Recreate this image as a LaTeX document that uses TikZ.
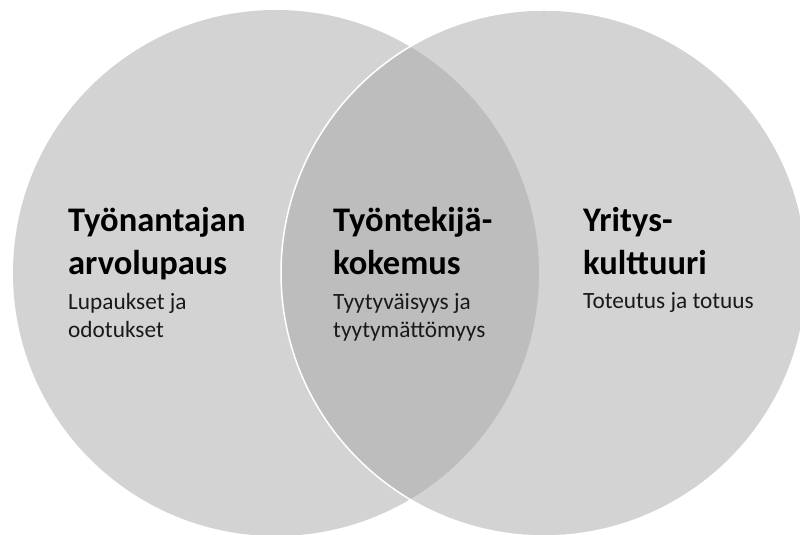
\documentclass[tikz,border=0pt]{standalone}
\usepackage{fontspec}
\setmainfont{Carlito}
\usetikzlibrary{positioning}
\definecolor{venngray}{RGB}{211,211,211}
\definecolor{lensgray}{RGB}{189,189,189}
\definecolor{subtext}{RGB}{25,25,25}

\begin{document}
\begin{tikzpicture}[x=1pt, y=1pt,
        head/.style={anchor=base west, inner sep=0pt, align=left,
                     font=\bfseries\fontsize{34.5}{43}\selectfont},
        sub/.style={anchor=base west, inner sep=0pt, align=left, text=subtext,
                    font=\fontsize{23.3}{28}\selectfont}]
    \useasboundingbox (0,0) rectangle (800,535);
    \clip (0,0) rectangle (800,535);

    % the two circles and their overlap
    \coordinate (lc) at (276,262);
    \coordinate (rc) at (544,262);
    \fill[venngray] (lc) circle (263);
    \fill[venngray] (rc) circle (263);
    \begin{scope}
        \clip (lc) circle (263);
        \fill[lensgray] (rc) circle (263);
    \end{scope}
    \draw[white, line width=1.5pt] (rc) circle (263);

    % texts (base = last line)
    \node[head] (lefthead) at (68,260) {Työnantajan\\arvolupaus};
    \node[sub] (leftsub) at (68,197) {Lupaukset ja\\odotukset};
    \node[head] (midhead) at (333,260) {Työntekijä-\\kokemus};
    \node[sub] (midsub) at (333,197) {Tyytyväisyys ja\\tyytymättömyys};
    \node[head] (righthead) at (583,260) {Yritys-\\kulttuuri};
    \node[sub] (rightsub) at (583,226) {Toteutus ja totuus};
\end{tikzpicture}
\end{document}
